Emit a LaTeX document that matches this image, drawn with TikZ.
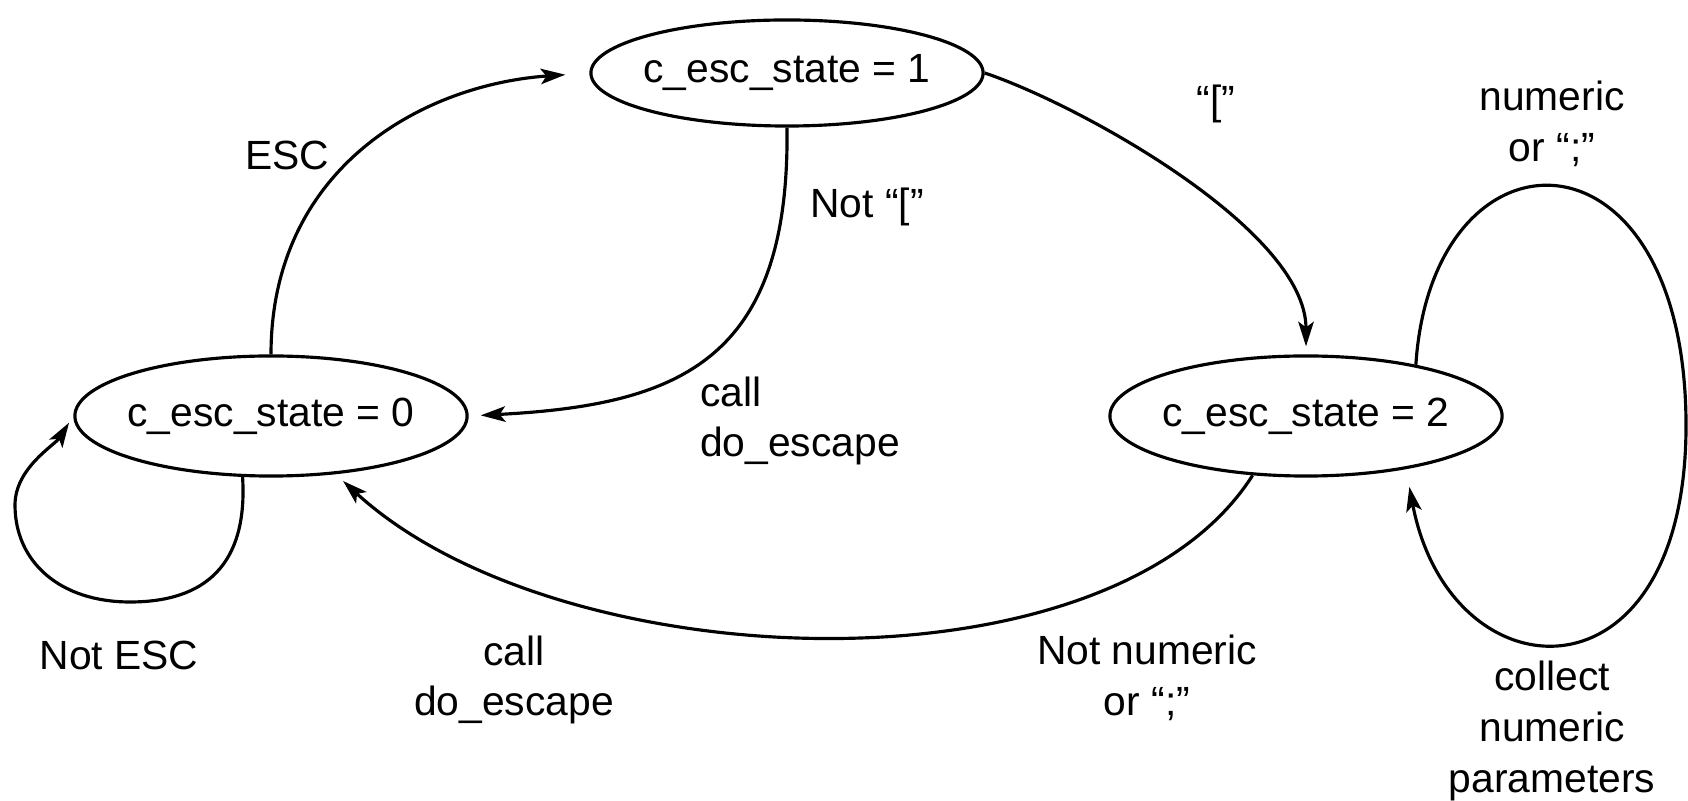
\documentclass[tikz,border=0pt]{standalone}
\usepackage{fontspec}
\setmainfont{Liberation Sans}
\usetikzlibrary{arrows.meta, shapes.geometric}
\newcommand{\lblsize}{\fontsize{11.6pt}{14.4pt}\selectfont}

\begin{document}
\begin{tikzpicture}[
    x=0.01cm, y=-0.01cm,
    state/.style={ellipse, draw, line width=0.9pt, minimum width=3.92cm, minimum height=1.2cm,
                  inner xsep=-2mm, inner ysep=0pt, font=\lblsize},
    lbl/.style={align=center, font=\lblsize, inner sep=1pt},
    arrow/.style={-{Stealth[length=7pt, width=4.4pt, inset=1.6pt]}, line width=0.9pt}
]
    \useasboundingbox (0,0) rectangle (1688,801);
    \node[state, minimum height=1.06cm] (s1) at (787,73) {c\_esc\_state = 1};
    \node[state] (s0) at (271,416) {c\_esc\_state = 0};
    \node[state] (s2) at (1306,416) {c\_esc\_state = 2};
    \coordinate (loopR) at (1686,422);
    \coordinate (loopB) at (130,602);
    \coordinate (loopL) at (15,505);

    \draw[arrow, shorten >=0.24cm] (s0.north) .. controls (271,170) and (420,85) .. (s1.west);
    \draw[arrow, shorten >=0.12cm] (s1.south) .. controls (790,360) and (680,405) .. (s0.east);
    \draw[arrow, shorten >=0.08cm] (s1.east) .. controls (1080,105) and (1306,230) .. (s2.north);
    \draw[arrow, shorten >=0.1cm] (s2.-132) .. controls (1110,700) and (560,680) .. (s0.-42);
    \draw[arrow, shorten >=0.18cm] (s2.25) .. controls (1432,118) and (1684,115) .. (loopR)
        .. controls (1688,712) and (1450,700) .. (s2.-28);
    \draw[arrow, shorten >=0.08cm] (s0.-115) .. controls (248,565) and (205,602) .. (loopB)
        .. controls (60,602) and (15,562) .. (loopL)
        .. controls (15,468) and (55,445) .. (s0.west);

    \node[lbl] (esc) at (287,155) {ESC};
    \node[lbl] (notbr) at (867,207) {Not “[”};
    \node[lbl, align=left, anchor=west] (call1) at (696,421) {call\\do\_escape};
    \node[lbl] (br) at (1216,104) {“[”};
    \node[lbl] (num) at (1552,124) {numeric\\or “;”};
    \node[lbl] (notesc) at (119,655) {Not ESC};
    \node[lbl] (call2) at (514,680) {call\\do\_escape};
    \node[lbl] (notnum) at (1147,678) {Not numeric\\or “;”};
    \node[lbl] (collect) at (1552,731) {collect\\numeric\\parameters};
\end{tikzpicture}
\end{document}
